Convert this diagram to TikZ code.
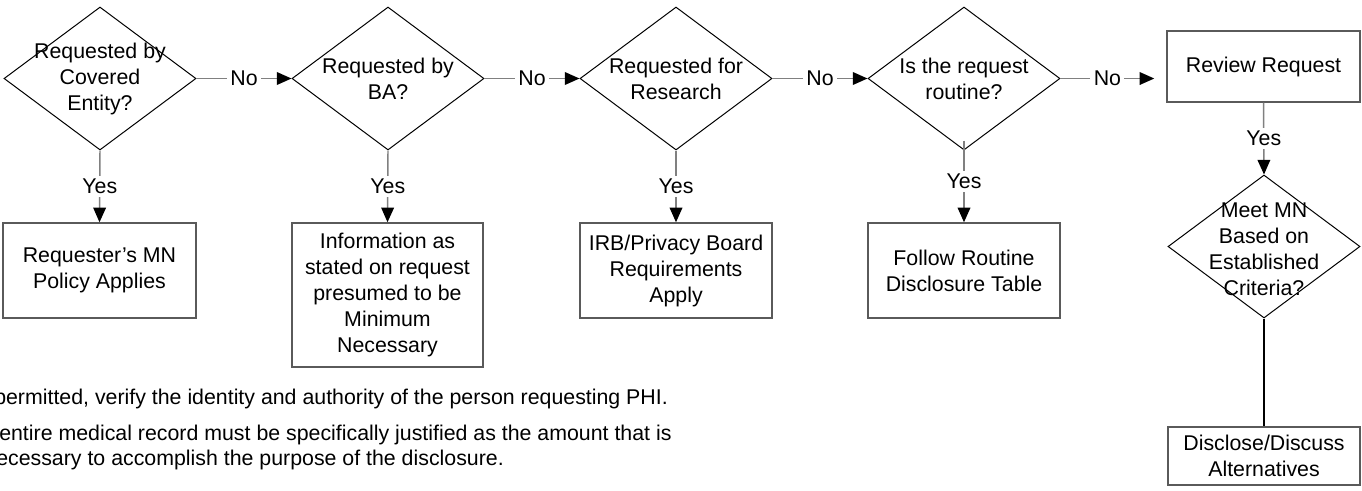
\documentclass[tikz,border=0pt]{standalone}
\usepackage{fontspec}
\setmainfont{Liberation Sans}
\usetikzlibrary{shapes.geometric,arrows.meta}
\definecolor{linegray}{RGB}{128,128,128}
\definecolor{boxgray}{RGB}{90,90,90}
\begin{document}
\begin{tikzpicture}[x=0.75pt,y=-0.75pt,
  font=\fontsize{16}{19.5}\selectfont,
  dia/.style={shape=diamond,draw=black,line width=0.75pt,inner sep=0pt,
              minimum width=144pt,minimum height=107.25pt},
  dtext/.style={align=center,inner sep=0pt},
  box/.style={draw=boxgray,line width=1.1pt,align=center,inner sep=0pt},
  conn/.style={draw=linegray,line width=1.1pt},
  arr/.style={conn,-{Triangle[length=11pt,width=9.5pt,color=black]}},
  lab/.style={fill=white,inner sep=2.5pt},
  note/.style={anchor=base west,inner sep=0pt}
]
\useasboundingbox (0,0) rectangle (1362,490);
\clip (0,0) rectangle (1362,490);

% decisions
\node[dia] (d1) at (100,78.5) {};
\node[dtext] (t1) at (d1) {Requested by\\Covered\\Entity?};
\node[dia] (d2) at (388,78.5) {};
\node[dtext] (t2) at (d2) {Requested by\\BA?};
\node[dia] (d3) at (676,78.5) {};
\node[dtext] (t3) at (d3) {Requested for\\Research};
\node[dia] (d4) at (964,78.5) {};
\node[dtext] (t4) at (d4) {Is the request\\routine?};

% outcome boxes
\node[box,minimum width=144.75pt,minimum height=71.25pt] (b1) at (99.5,270.5) {Requester's MN\\Policy Applies};
\node[box,minimum width=143.25pt,minimum height=108pt] (b2) at (387.5,295) {Information as\\stated on request\\presumed to be\\Minimum\\Necessary};
\node[box,minimum width=144pt,minimum height=71.25pt] (b3) at (676,270.5) {IRB/Privacy Board\\Requirements\\Apply};
\node[box,minimum width=144pt,minimum height=71.25pt] (b4) at (964,270.5) {Follow Routine\\Disclosure Table};

% right column
\node[box,minimum width=144.75pt,minimum height=53.25pt] (rev) at (1263.5,66.5) {Review Request};
\node[dia] (d5) at (1264,246.5) {};
\node[dtext] (t5) at (1264,249) {Meet MN\\Based on\\Established\\Criteria?};
\node[box,minimum width=144pt,minimum height=43.5pt] (dis) at (1264,456) {Disclose/Discuss\\Alternatives};

% No connectors
\draw[arr] (d1.east) -- node[lab] (n1) {No} (d2.west);
\draw[arr] (d2.east) -- node[lab] (n2) {No} (d3.west);
\draw[arr] (d3.east) -- node[lab] (n3) {No} (d4.west);
\path (rev.west |- d4.east) ++(-12,0) coordinate (revin);
\draw[arr] (d4.east) -- node[lab] (n4) {No} (revin);

% Yes connectors
\draw[arr] (d1.south) -- node[lab] (y1) {Yes} (b1.north);
\draw[arr] (d2.south) -- node[lab] (y2) {Yes} (b2.north);
\draw[arr] (d3.south) -- node[lab] (y3) {Yes} (b3.north);
\coordinate (d4in) at ([yshift=7.5pt]d4.south);
\draw[arr] (d4in) -- node[lab] (y4) {Yes} (b4.north);
\draw[arr] (rev.south) -- node[lab] (y5) {Yes} (d5.north);
\draw[black,line width=1.5pt] (d5.south) -- (dis.north);

% notes (cut at the left edge, as in the reference)
\node[note] (p1) at (-6,404) {permitted, verify the identity and authority of the person requesting PHI.};
\node[note] (p2) at (-1,440) {entire medical record must be specifically justified as the amount that is};
\node[note] (p3) at (-4,465) {ecessary to accomplish the purpose of the disclosure.};
\end{tikzpicture}
\end{document}
